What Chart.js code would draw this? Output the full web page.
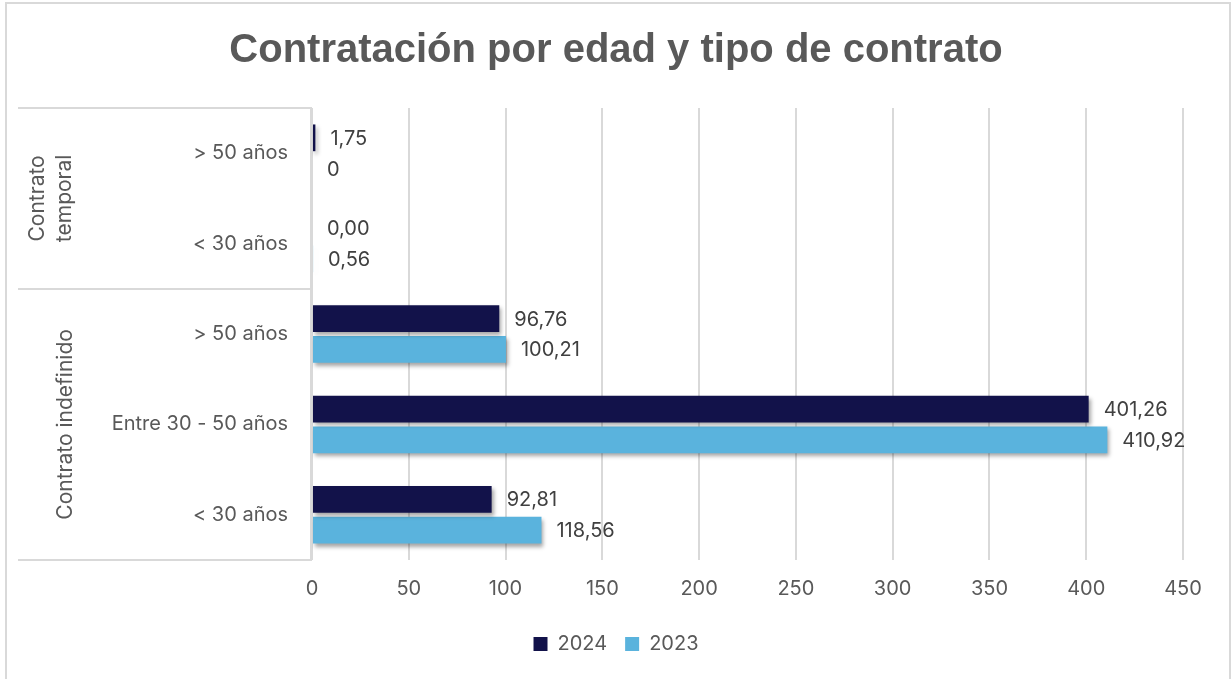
<!DOCTYPE html>
<html>
<head>
<meta charset="utf-8">
<script src="https://cdn.jsdelivr.net/npm/chart.js@4.4.1/dist/chart.umd.min.js"></script>
<style>
  html, body { margin: 0; padding: 0; background: #fff; }
  #wrap { width: 1232px; height: 679px; position: relative; }
</style>
</head>
<body>
<div id="wrap"><canvas id="myChart" width="1232" height="679"></canvas></div>
<script>
// categories, top to bottom
const categories = ['> 50 años', '< 30 años', '> 50 años', 'Entre 30 - 50 años', '< 30 años'];
const groups = [
  { lines: ['Contrato', 'temporal'], from: 0, to: 1 },
  { lines: ['Contrato indefinido'], from: 2, to: 4 }
];
const values2024 = [1.75, 0, 96.76, 401.26, 92.81];
const values2023 = [0, 0.56, 100.21, 410.92, 118.56];
const labels2024 = ['1,75', '0,00', '96,76', '401,26', '92,81'];
const labels2023 = ['0', '0,56', '100,21', '410,92', '118,56'];
const xTicks = [0, 50, 100, 150, 200, 250, 300, 350, 400, 450];

const grey = '#595959';
const lineGrey = '#d9d9d9';
const fontFam = 'Inter, "Open Sans", sans-serif';

// border round the whole chart
const frame = {
  id: 'frame',
  beforeDraw(chart) {
    const ctx = chart.ctx;
    ctx.save();
    ctx.fillStyle = '#fff';
    ctx.fillRect(0, 0, chart.width, chart.height);
    ctx.strokeStyle = lineGrey;
    ctx.lineWidth = 2;
    ctx.beginPath();
    ctx.moveTo(6, chart.height + 2);
    ctx.lineTo(6, 3);
    ctx.lineTo(1230, 3);
    ctx.lineTo(1230, chart.height + 2);
    ctx.stroke();
    ctx.restore();
  }
};

// drop shadow under the bars
const barShadow = {
  id: 'barShadow',
  beforeDatasetsDraw(chart) {
    const ctx = chart.ctx;
    ctx.save();
    ctx.shadowColor = 'rgba(0,0,0,0.35)';
    ctx.shadowBlur = 4;
    ctx.shadowOffsetX = 2;
    ctx.shadowOffsetY = 3;
  },
  afterDatasetsDraw(chart) {
    chart.ctx.restore();
  }
};

// value labels next to the bars
const valueLabels = {
  id: 'valueLabels',
  afterDatasetsDraw(chart) {
    const ctx = chart.ctx;
    const texts = [labels2024, labels2023];
    ctx.save();
    ctx.font = '20px ' + fontFam;
    ctx.fillStyle = '#404040';
    ctx.textAlign = 'left';
    ctx.textBaseline = 'middle';
    chart.data.datasets.forEach((ds, i) => {
      chart.getDatasetMeta(i).data.forEach((bar, j) => {
        ctx.fillText(texts[i][j], bar.x + 15, bar.y + 1);
      });
    });
    ctx.restore();
  }
};

// outer level of the category axis: group names and separators
const groupAxis = {
  id: 'groupAxis',
  afterDraw(chart) {
    const ctx = chart.ctx;
    const y = chart.scales.y;
    const area = chart.chartArea;
    ctx.save();
    ctx.strokeStyle = lineGrey;
    ctx.lineWidth = 2;
    const seps = [y.getPixelForValue(-0.5)];
    groups.forEach(g => seps.push(y.getPixelForValue(g.to + 0.5)));
    ctx.beginPath();
    seps.forEach(p => {
      ctx.moveTo(18, Math.round(p));
      ctx.lineTo(area.left, Math.round(p));
    });
    ctx.moveTo(area.left - 1, seps[0]);
    ctx.lineTo(area.left - 1, seps[seps.length - 1]);
    ctx.stroke();

    ctx.fillStyle = grey;
    ctx.font = '21px ' + fontFam;
    ctx.textAlign = 'center';
    ctx.textBaseline = 'middle';
    groups.forEach(g => {
      const mid = (y.getPixelForValue(g.from - 0.5) + y.getPixelForValue(g.to + 0.5)) / 2;
      const x0 = g.lines.length > 1 ? 38 : 66;
      g.lines.forEach((t, k) => {
        ctx.save();
        ctx.translate(x0 + k * 27, mid);
        ctx.rotate(-Math.PI / 2);
        ctx.fillText(t, 0, 0);
        ctx.restore();
      });
    });
    ctx.restore();
  }
};

const data = {
  labels: categories,
  datasets: [{
    label: '2024',
    data: values2024,
    backgroundColor: '#12124a',
    barPercentage: 0.87,
    categoryPercentage: 0.68
  }, {
    label: '2023',
    data: values2023,
    backgroundColor: '#5ab3dd',
    barPercentage: 0.87,
    categoryPercentage: 0.68
  }]
};

const config = {
  type: 'bar',
  data: data,
  options: {
    indexAxis: 'y',
    responsive: false,
    animation: false,
    layout: { padding: { left: 49, right: 49, top: 0, bottom: 15 } },
    scales: {
      x: {
        min: 0,
        max: 450,
        afterBuildTicks: s => { s.ticks = xTicks.map(v => ({ value: v })); },
        afterFit: s => { s.height = 56; },
        ticks: { color: grey, font: { size: 20, family: fontFam }, padding: 17 },
        grid: { color: lineGrey, lineWidth: 2, drawTicks: false },
        border: { display: false }
      },
      y: {
        afterFit: s => { s.width = 263; },
        ticks: { color: grey, font: { size: 20, family: fontFam }, padding: 24 },
        grid: { display: false, drawTicks: false },
        border: { display: false }
      }
    },
    plugins: {
      title: {
        display: true,
        text: 'Contratación por edad y tipo de contrato',
        color: grey,
        font: { size: 40, weight: 'bold', family: '"Liberation Sans", Arial, sans-serif' },
        padding: { top: 27, bottom: 33 }
      },
      legend: {
        position: 'bottom',
        labels: {
          color: grey,
          font: { size: 20, family: fontFam },
          boxWidth: 14,
          boxHeight: 14,
          padding: 18
        }
      },
      tooltip: { enabled: false }
    }
  },
  plugins: [frame, barShadow, valueLabels, groupAxis]
};

const myChart = new Chart(document.getElementById('myChart'), config);
</script>
</body>
</html>
